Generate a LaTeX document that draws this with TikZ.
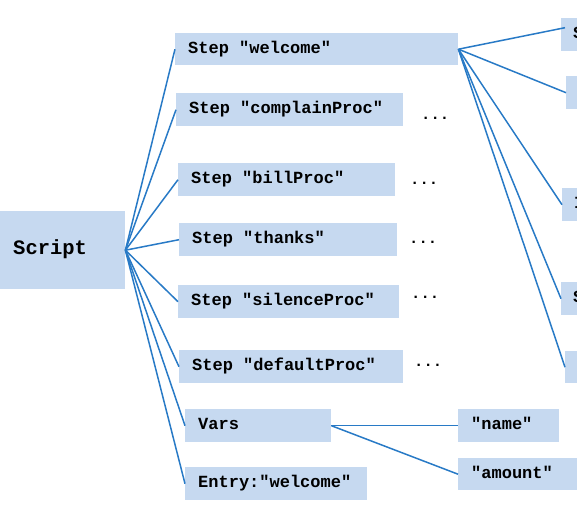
\documentclass[tikz,border=0pt]{standalone}
\usepackage{fontspec}
\newfontfamily\monofont{Liberation Mono}
\usetikzlibrary{calc}
\definecolor{boxblue}{RGB}{198,217,240}
\definecolor{linkblue}{RGB}{40,122,198}
\begin{document}
\begin{tikzpicture}[x=1pt,y=1pt,
  box/.style={fill=boxblue, draw=none, inner xsep=13pt, inner ysep=0pt,
    align=flush left, anchor=north west,
    font=\monofont\bfseries\fontsize{17}{20}\selectfont,
    text height=11pt, text depth=3pt},
  bigbox/.style={box, font=\monofont\bfseries\fontsize{20.5}{24}\selectfont,
    text height=13pt, text depth=4pt},
  dots/.style={anchor=base west, inner sep=0pt,
    font=\monofont\bfseries\fontsize{15.5}{18}\selectfont},
  link/.style={draw=linkblue, line width=1.5pt}]
\useasboundingbox (0,0) rectangle (577,-521);
\clip (0,0) rectangle (577,-521);

% root
\node[bigbox, minimum height=78pt, text width=99pt] (script) at (0,-211) {Script};

% steps
\node[box, minimum height=32pt, text width=257pt] (welcome)  at (175,-33)  {Step "welcome"};
\node[box, minimum height=33pt, text width=201pt] (complain) at (176,-93)  {Step "complainProc"};
\node[box, minimum height=33pt, text width=191pt] (bill)     at (178,-163) {Step "billProc"};
\node[box, minimum height=33pt, text width=192pt] (thanks)   at (179,-223) {Step "thanks"};
\node[box, minimum height=33pt, text width=195pt] (silence)  at (178,-285) {Step "silenceProc"};
\node[box, minimum height=33pt, text width=198pt] (default)  at (179,-350) {Step "defaultProc"};
\node[box, minimum height=33pt, text width=120pt] (vars)     at (185,-409) {Vars};
\node[box, minimum height=33pt, text width=156pt] (entry)    at (185,-467) {Entry:"welcome"};

% vars children
\node[box, minimum height=33pt, text width=75pt]  (name)   at (458,-409) {"name"};
\node[box, minimum height=32pt, text width=100pt] (amount) at (458,-458) {"amount"};

% children of welcome (cut by the picture edge)
\node[box, inner xsep=12pt, minimum height=33pt, text width=40pt] (r1) at (561,-18)  {S};
\node[box, minimum height=33pt, text width=40pt]                  (r2) at (566,-76)  {};
\node[box, inner xsep=12pt, minimum height=33pt, text width=40pt] (r3) at (562,-188) {I};
\node[box, inner xsep=12pt, minimum height=33pt, text width=40pt] (r4) at (561,-282) {S};
\node[box, minimum height=32pt, text width=40pt]                  (r5) at (565,-351) {};

% ellipses
\node[dots] (d1) at (421,-119.5) {...};
\node[dots] (d2) at (410,-184.5) {...};
\node[dots] (d3) at (409,-243.5) {...};
\node[dots] (d4) at (411,-298.5) {...};
\node[dots] (d5) at (414,-366.5) {...};

% connectors from Script
\foreach \t in {welcome,complain,bill,thanks,silence,default,vars,entry}
  \draw[link] (script.east) -- (\t.west);

% connectors from welcome
\draw[link] (welcome.east) -- ($(r1.west)+(4,7)$);
\foreach \t in {r2,r3,r4,r5}
  \draw[link] (welcome.east) -- (\t.west);

% connectors from Vars
\draw[link] (vars.east) -- (name.west);
\draw[link] (vars.east) -- (amount.west);
\end{tikzpicture}
\end{document}
